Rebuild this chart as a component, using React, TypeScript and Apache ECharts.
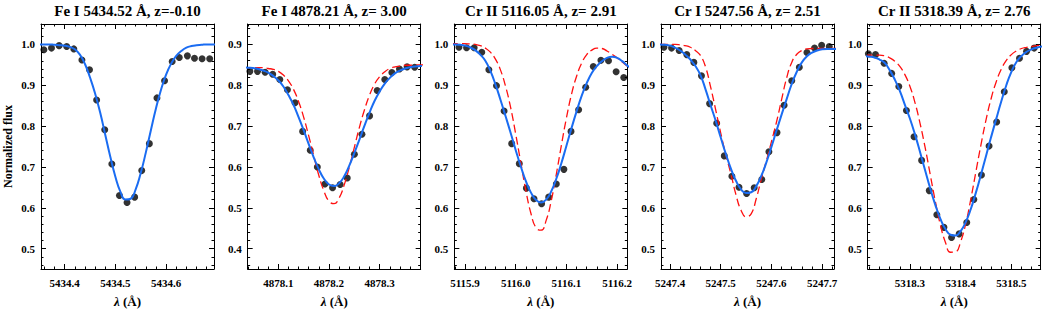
import React, { useEffect, useRef } from "react";
import * as echarts from "echarts";

// ---------- data ----------
const titles = [
  "Fe I 5434.52 Å, z=-0.10",
  "Fe I 4878.21 Å, z= 3.00",
  "Cr II 5116.05 Å, z= 2.91",
  "Cr I 5247.56 Å, z= 2.51",
  "Cr II 5318.39 Å, z= 2.76",
];
const lineCenters = [5434.52, 4878.21, 5116.05, 5247.56, 5318.39];
const xMins = [5434.3533, 4878.0396, 5115.8789, 5247.3822, 5318.2166];
const xSpan = 0.3412;
const yMins = [0.45, 0.35, 0.45, 0.45, 0.45];
const ySpan = 0.6;
const xMajorTicks = [
  [5434.4, 5434.5, 5434.6],
  [4878.1, 4878.2, 4878.3],
  [5115.9, 5116.0, 5116.1, 5116.2],
  [5247.4, 5247.5, 5247.6, 5247.7],
  [5318.3, 5318.4, 5318.5],
];
const yMajorTicks = [
  [0.5, 0.6, 0.7, 0.8, 0.9, 1.0],
  [0.4, 0.5, 0.6, 0.7, 0.8, 0.9],
  [0.5, 0.6, 0.7, 0.8, 0.9, 1.0],
  [0.5, 0.6, 0.7, 0.8, 0.9, 1.0],
  [0.5, 0.6, 0.7, 0.8, 0.9, 1.0],
];

// observed points (wavelength, normalized flux)
const obsX1 = [5434.359, 5434.374, 5434.389, 5434.404, 5434.418, 5434.434, 5434.449, 5434.463, 5434.479, 5434.493, 5434.508, 5434.523, 5434.538, 5434.552, 5434.567, 5434.582, 5434.597, 5434.612, 5434.626, 5434.642, 5434.656, 5434.671, 5434.686];
const obsY1 = [0.987, 0.991, 0.997, 0.995, 0.989, 0.962, 0.938, 0.864, 0.791, 0.707, 0.630, 0.613, 0.626, 0.691, 0.757, 0.869, 0.911, 0.958, 0.968, 0.972, 0.966, 0.965, 0.965];
const obsX2 = [4878.044, 4878.059, 4878.074, 4878.089, 4878.103, 4878.118, 4878.133, 4878.148, 4878.163, 4878.177, 4878.192, 4878.207, 4878.222, 4878.236, 4878.250, 4878.265, 4878.280, 4878.295, 4878.310, 4878.324, 4878.339, 4878.354, 4878.369];
const obsY2 = [0.834, 0.834, 0.832, 0.827, 0.814, 0.789, 0.757, 0.687, 0.641, 0.600, 0.558, 0.549, 0.557, 0.573, 0.631, 0.680, 0.725, 0.787, 0.814, 0.831, 0.840, 0.845, 0.844];
const obsX3 = [5115.888, 5115.903, 5115.918, 5115.933, 5115.947, 5115.962, 5115.977, 5115.992, 5116.007, 5116.021, 5116.036, 5116.051, 5116.065, 5116.080, 5116.095, 5116.109, 5116.124, 5116.138, 5116.153, 5116.168, 5116.183, 5116.198, 5116.213];
const obsY3 = [0.993, 0.992, 0.992, 0.981, 0.938, 0.899, 0.837, 0.757, 0.708, 0.648, 0.622, 0.610, 0.626, 0.658, 0.694, 0.787, 0.840, 0.895, 0.946, 0.961, 0.960, 0.933, 0.919];
const obsX4 = [5247.388, 5247.403, 5247.418, 5247.433, 5247.447, 5247.462, 5247.478, 5247.492, 5247.507, 5247.522, 5247.536, 5247.551, 5247.566, 5247.581, 5247.595, 5247.611, 5247.625, 5247.640, 5247.655, 5247.670, 5247.685, 5247.699, 5247.714];
const obsY4 = [0.993, 0.991, 0.985, 0.975, 0.956, 0.923, 0.855, 0.807, 0.727, 0.677, 0.650, 0.635, 0.649, 0.669, 0.737, 0.784, 0.851, 0.911, 0.944, 0.980, 0.991, 0.998, 0.995];
const obsX5 = [5318.218, 5318.232, 5318.249, 5318.264, 5318.278, 5318.293, 5318.308, 5318.323, 5318.338, 5318.353, 5318.367, 5318.382, 5318.397, 5318.412, 5318.426, 5318.441, 5318.456, 5318.471, 5318.486, 5318.501, 5318.516, 5318.530, 5318.545];
const obsY5 = [0.977, 0.975, 0.954, 0.929, 0.897, 0.838, 0.774, 0.716, 0.642, 0.583, 0.552, 0.527, 0.536, 0.564, 0.620, 0.680, 0.751, 0.810, 0.884, 0.943, 0.966, 0.983, 0.991];

// model curves sampled at offsets (Å) from each line centre
const modelOffsets = [-0.18, -0.17, -0.16, -0.15, -0.14, -0.13, -0.12, -0.11, -0.10, -0.09, -0.08, -0.07, -0.06, -0.05, -0.04, -0.03, -0.02, -0.01, 0, 0.01, 0.02, 0.03, 0.04, 0.05, 0.06, 0.07, 0.08, 0.09, 0.10, 0.11, 0.12, 0.13, 0.14, 0.15, 0.16, 0.17, 0.18];

const blue1 = [1.000, 1.000, 1.000, 1.000, 0.999, 0.998, 0.997, 0.994, 0.988, 0.975, 0.952, 0.919, 0.880, 0.833, 0.779, 0.725, 0.676, 0.639, 0.620, 0.622, 0.645, 0.685, 0.735, 0.790, 0.843, 0.889, 0.926, 0.953, 0.972, 0.984, 0.992, 0.996, 0.998, 0.999, 1.000, 1.000, 1.000];
const blue2 = [0.844, 0.843, 0.842, 0.840, 0.836, 0.831, 0.823, 0.812, 0.797, 0.776, 0.752, 0.722, 0.690, 0.656, 0.623, 0.594, 0.571, 0.557, 0.553, 0.560, 0.577, 0.603, 0.634, 0.667, 0.701, 0.733, 0.762, 0.785, 0.804, 0.818, 0.829, 0.836, 0.841, 0.844, 0.846, 0.847, 0.848];
const red2 = [0.843, 0.843, 0.843, 0.843, 0.843, 0.841, 0.839, 0.834, 0.825, 0.811, 0.790, 0.760, 0.722, 0.676, 0.627, 0.579, 0.541, 0.516, 0.510, 0.524, 0.556, 0.599, 0.648, 0.697, 0.740, 0.776, 0.803, 0.821, 0.833, 0.841, 0.845, 0.847, 0.849, 0.849, 0.850, 0.850, 0.850];
const blue3 = [1.000, 1.000, 0.999, 0.997, 0.993, 0.986, 0.975, 0.960, 0.935, 0.902, 0.864, 0.824, 0.783, 0.741, 0.701, 0.665, 0.637, 0.619, 0.613, 0.620, 0.640, 0.671, 0.709, 0.752, 0.795, 0.836, 0.874, 0.905, 0.930, 0.947, 0.959, 0.967, 0.970, 0.967, 0.959, 0.948, 0.940];
const red3 = [1.002, 1.002, 1.002, 1.002, 1.001, 1.000, 0.997, 0.991, 0.981, 0.964, 0.937, 0.897, 0.845, 0.780, 0.710, 0.642, 0.586, 0.551, 0.545, 0.569, 0.617, 0.682, 0.753, 0.820, 0.878, 0.922, 0.954, 0.975, 0.986, 0.991, 0.990, 0.984, 0.976, 0.967, 0.957, 0.947, 0.938];
const blue4 = [1.000, 0.999, 0.997, 0.992, 0.985, 0.975, 0.963, 0.947, 0.925, 0.890, 0.851, 0.813, 0.772, 0.732, 0.696, 0.666, 0.645, 0.636, 0.638, 0.653, 0.678, 0.711, 0.749, 0.789, 0.828, 0.866, 0.903, 0.933, 0.956, 0.971, 0.980, 0.985, 0.988, 0.989, 0.989, 0.989, 0.989];
const red4 = [1.000, 1.000, 1.000, 1.000, 0.999, 0.997, 0.993, 0.985, 0.973, 0.945, 0.896, 0.840, 0.783, 0.730, 0.683, 0.632, 0.594, 0.578, 0.585, 0.622, 0.670, 0.715, 0.762, 0.810, 0.865, 0.918, 0.956, 0.976, 0.985, 0.989, 0.990, 0.990, 0.990, 0.990, 0.990, 0.990, 0.990];
const blue5 = [0.971, 0.970, 0.968, 0.963, 0.955, 0.937, 0.914, 0.886, 0.852, 0.818, 0.779, 0.736, 0.691, 0.647, 0.607, 0.573, 0.548, 0.534, 0.532, 0.543, 0.565, 0.597, 0.637, 0.681, 0.727, 0.773, 0.817, 0.860, 0.900, 0.933, 0.957, 0.972, 0.982, 0.988, 0.992, 0.995, 0.996];
const red5 = [0.974, 0.974, 0.974, 0.974, 0.972, 0.967, 0.959, 0.946, 0.926, 0.897, 0.857, 0.806, 0.747, 0.681, 0.616, 0.558, 0.515, 0.491, 0.492, 0.517, 0.561, 0.621, 0.688, 0.754, 0.815, 0.867, 0.908, 0.939, 0.961, 0.975, 0.984, 0.990, 0.993, 0.995, 0.997, 0.998, 0.998];

const obsXs = [obsX1, obsX2, obsX3, obsX4, obsX5];
const obsYs = [obsY1, obsY2, obsY3, obsY4, obsY5];
const blueModels = [blue1, blue2, blue3, blue4, blue5];
const redModels: (number[] | null)[] = [null, red2, red3, red4, red5];

// ---------- layout / style ----------
const FONT = '"Liberation Serif", "Times New Roman", serif';
const GRID_LEFT0 = 41;
const GRID_STEP = 206.67;
const GRID_W = 173;
const GRID_TOP = 24;
const GRID_H = 245;
const BLUE = "#1a6cf2";
const RED = "#ff1010";

function minorValues(min: number, max: number, step: number, ratio: number) {
  const out: number[] = [];
  const k0 = Math.ceil(min / step - 1e-6);
  const k1 = Math.floor(max / step + 1e-6);
  for (let k = k0; k <= k1; k++) {
    if (k % ratio !== 0) out.push(+(k * step).toFixed(4));
  }
  return out;
}

function axis(
  gridIndex: number,
  position: string,
  min: number,
  max: number,
  ticks: number[],
  len: number,
  showLine: boolean,
  label: any,
  extra: any = {}
) {
  return {
    type: "value",
    gridIndex,
    position,
    offset: 0,
    min,
    max,
    splitLine: { show: false },
    axisLine: { show: showLine, onZero: false, lineStyle: { color: "#000", width: 1 } },
    axisTick: { show: true, inside: true, length: len, customValues: ticks, lineStyle: { color: "#000", width: 1 } },
    axisLabel: label ? { ...label, customValues: ticks } : { show: false },
    axisPointer: { show: false },
    ...extra,
  };
}

function buildOption() {
  const grids: any[] = [];
  const xAxes: any[] = [];
  const yAxes: any[] = [];
  const series: any[] = [];
  const graphics: any[] = [];

  for (let i = 0; i < 5; i++) {
    const left = GRID_LEFT0 + i * GRID_STEP;
    grids.push({ left, top: GRID_TOP, width: GRID_W, height: GRID_H, containLabel: false, outerBoundsMode: "none" });
    const xmin = xMins[i];
    const xmax = xMins[i] + xSpan;
    const ymin = yMins[i];
    const ymax = yMins[i] + ySpan;
    const xMinor = minorValues(xmin, xmax, 0.02, 5);
    const yMinor = minorValues(ymin, ymax, 0.02, 5);
    const xLabel = {
      show: true,
      margin: 8,
      color: "#000",
      fontFamily: FONT,
      fontWeight: "bold",
      fontSize: 11,
      formatter: (v: number) => v.toFixed(1),
    };
    const yLabel = {
      show: true,
      margin: 6,
      color: "#000",
      fontFamily: FONT,
      fontWeight: "bold",
      fontSize: 11,
      formatter: (v: number) => v.toFixed(1),
    };
    xAxes.push(
      axis(i, "bottom", xmin, xmax, xMajorTicks[i], 5, true, xLabel, {
        name: "{i|λ} (Å)",
        nameLocation: "middle",
        nameGap: 26,
        nameTextStyle: {
          color: "#000",
          fontFamily: FONT,
          fontWeight: "bold",
          fontSize: 13,
          rich: { i: { fontStyle: "italic", fontWeight: "bold", fontFamily: FONT, fontSize: 13, color: "#000" } },
        },
      }),
      axis(i, "bottom", xmin, xmax, xMinor, 2.5, false, null),
      axis(i, "top", xmin, xmax, xMajorTicks[i], 5, true, null),
      axis(i, "top", xmin, xmax, xMinor, 2.5, false, null)
    );
    const yExtra =
      i === 0
        ? {
            name: "Normalized flux",
            nameLocation: "middle",
            nameRotate: 90,
            nameGap: 27,
            nameTextStyle: { color: "#000", fontFamily: FONT, fontWeight: "bold", fontSize: 12 },
          }
        : {};
    yAxes.push(
      axis(i, "left", ymin, ymax, yMajorTicks[i], 5, true, yLabel, yExtra),
      axis(i, "left", ymin, ymax, yMinor, 2.5, false, null),
      axis(i, "right", ymin, ymax, yMajorTicks[i], 5, true, null),
      axis(i, "right", ymin, ymax, yMinor, 2.5, false, null)
    );

    series.push({
      type: "scatter",
      xAxisIndex: 4 * i,
      yAxisIndex: 4 * i,
      symbol: "circle",
      symbolSize: 7,
      itemStyle: { color: "#000" },
      data: obsXs[i].map((x, k) => [x, obsYs[i][k]]),
      z: 2,
    });
    const red = redModels[i];
    if (red) {
      series.push({
        type: "line",
        xAxisIndex: 4 * i,
        yAxisIndex: 4 * i,
        showSymbol: false,
        symbol: "none",
        smooth: true,
        lineStyle: { color: RED, width: 1.3, type: [8, 4] },
        data: modelOffsets.map((o, k) => [lineCenters[i] + o, red[k]]),
        z: 3,
      });
    }
    series.push({
      type: "line",
      xAxisIndex: 4 * i,
      yAxisIndex: 4 * i,
      showSymbol: false,
      symbol: "none",
      smooth: true,
      lineStyle: { color: BLUE, width: 2 },
      data: modelOffsets.map((o, k) => [lineCenters[i] + o, blueModels[i][k]]),
      z: 4,
    });

    graphics.push({
      type: "text",
      x: left + GRID_W / 2,
      y: 11,
      style: {
        text: titles[i],
        textAlign: "center",
        textVerticalAlign: "middle",
        fill: "#000",
        font: `bold 15px ${FONT}`,
      },
    });
  }

  return {
    animation: false,
    backgroundColor: "#fff",
    grid: grids,
    xAxis: xAxes,
    yAxis: yAxes,
    series,
    graphic: graphics,
  };
}

export default function App() {
  const ref = useRef<HTMLDivElement>(null);
  useEffect(() => {
    const chart = echarts.init(ref.current!, null, { renderer: "svg" });
    chart.setOption(buildOption());
    return () => chart.dispose();
  }, []);
  return (
    <div
      ref={ref}
      style={{ position: "fixed", left: 0, top: 0, width: 1042, height: 311, background: "#fff" }}
    />
  );
}
